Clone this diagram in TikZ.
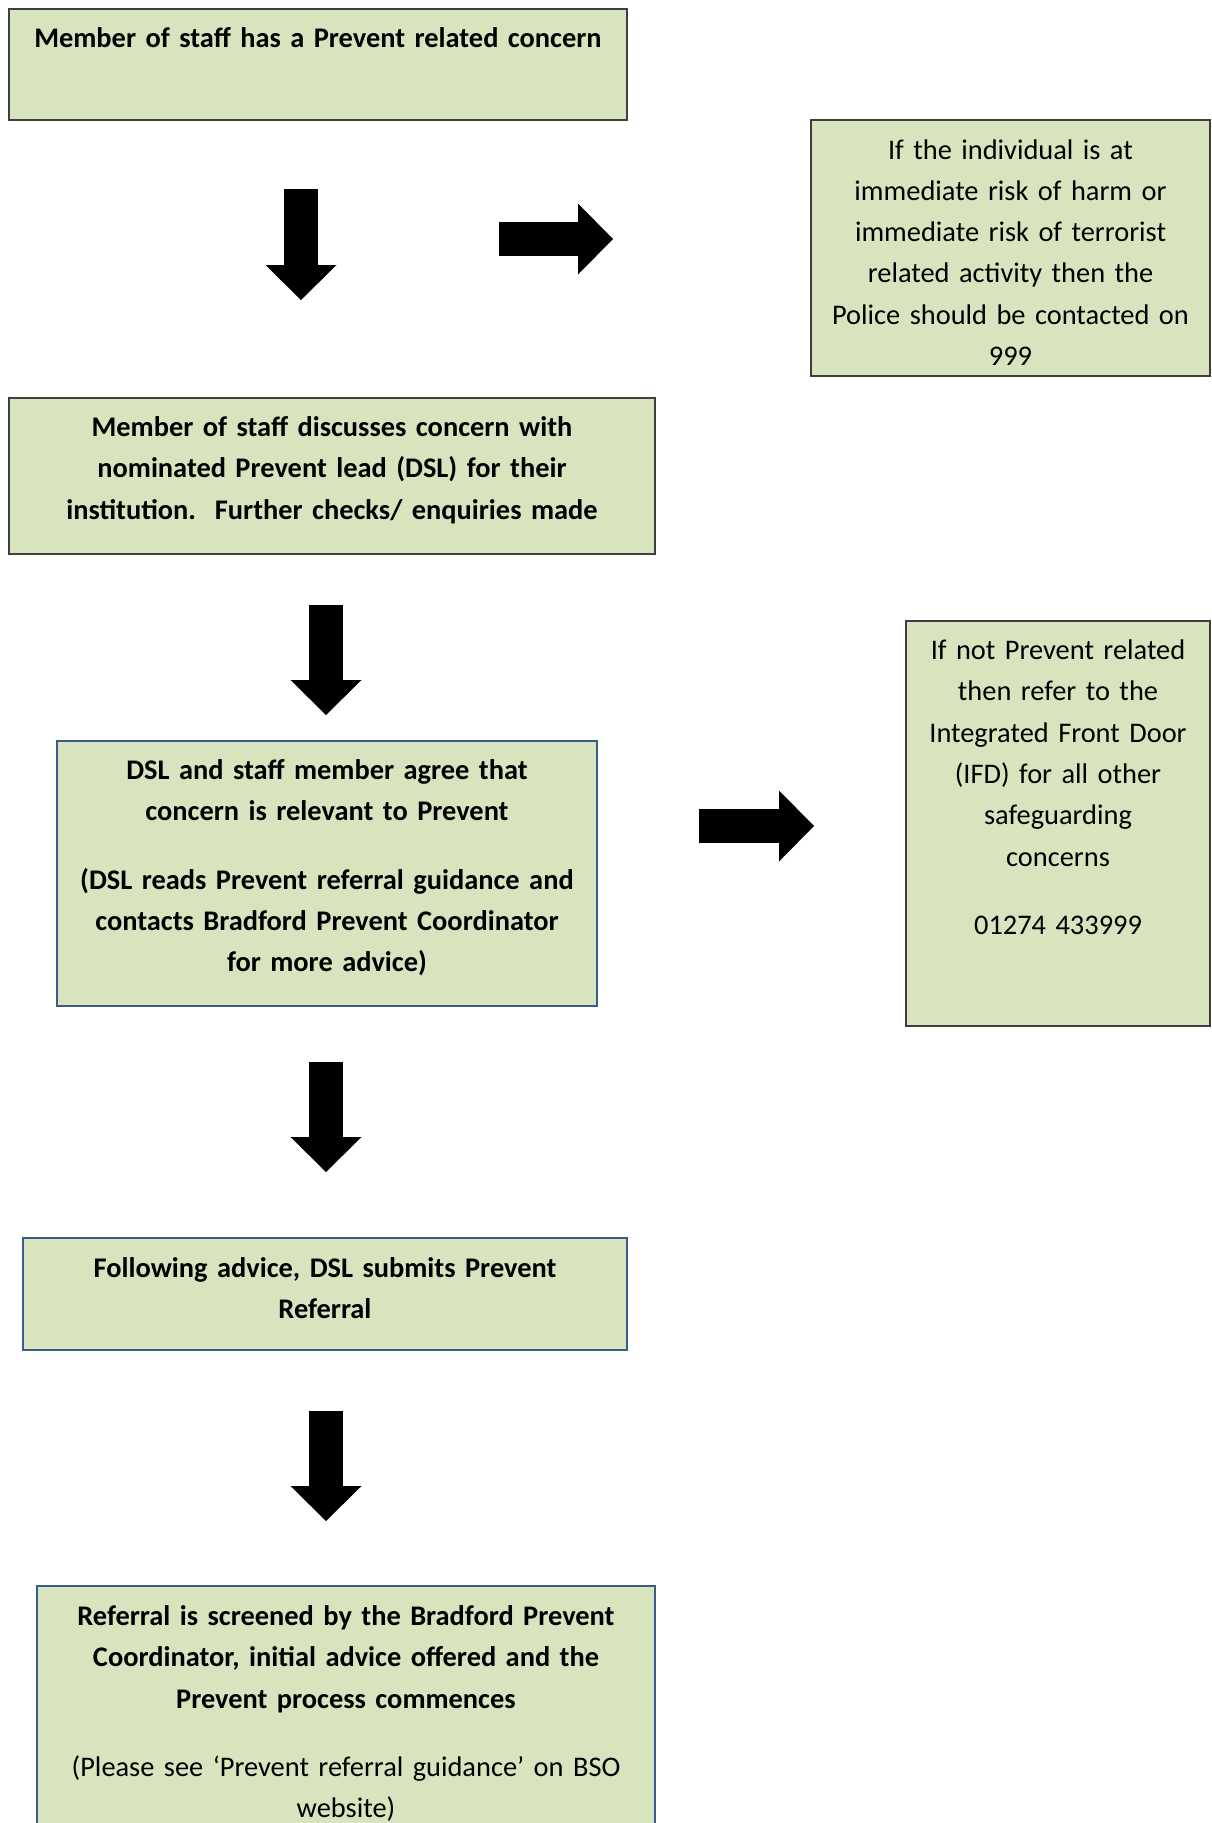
\documentclass[tikz,border=0pt]{standalone}
\usepackage{fontspec}
\setmainfont{Carlito}
\usepackage{xcolor}
\usetikzlibrary{arrows.meta}
\definecolor{boxgreen}{HTML}{D7E4BD}
\definecolor{boxgreyline}{HTML}{3F3F3F}
\definecolor{boxblueline}{HTML}{385D8A}

\begin{document}
\begin{tikzpicture}[
  x=1pt, y=-1pt,
  stepbox/.style={draw=boxgreyline, line width=1.6pt, fill=boxgreen, align=center, anchor=north,
                  inner xsep=4pt, inner ysep=0pt, outer sep=0pt,
                  font=\fontsize{28.4}{41.3}\selectfont\bfseries},
  sidebox/.style={stepbox, font=\fontsize{28.4}{41.3}\selectfont},
  bluebox/.style={stepbox, draw=boxblueline},
  blkarr/.style={line width=34pt, -{Triangle[length=35pt, width=71pt, line width=0pt]}}
]
\useasboundingbox (0,0) rectangle (1212,1823);
% ----- main column -----
\node[stepbox, text width=610pt, text height=38pt, text depth=73pt] (concern) at (318,9)
  {Member of staff has a Prevent related concern};
\node[stepbox, text width=638pt, text height=38.5pt, text depth=117.5pt] (discuss) at (332,398)
  {Member of staff discusses concern with\\nominated Prevent lead (DSL) for their\\institution.\ \ Further checks/ enquiries made};
\node[bluebox, text width=532pt, text height=38.5pt, text depth=226.5pt] (agree) at (327,741)
  {DSL and staff member agree that\\concern is relevant to Prevent\\[27pt](DSL reads Prevent referral guidance and\\contacts Bradford Prevent Coordinator\\for more advice)};
\node[bluebox, text width=596pt, text height=39.5pt, text depth=72.5pt] (submit) at (325,1238)
  {Following advice, DSL submits Prevent\\Referral};
\node[bluebox, text width=610pt, text height=39.5pt, text depth=219.5pt] (screen) at (346,1586)
  {Referral is screened by the Bradford Prevent\\Coordinator, initial advice offered and the\\Prevent process commences\\[27pt]{\mdseries(Please see ‘Prevent referral guidance’ on BSO\\website)}};
% ----- side boxes -----
\node[sidebox, text width=391pt, text height=39pt, text depth=217pt] (police) at (1010.5,120)
  {If the individual is at\\immediate risk of harm or\\immediate risk of terrorist\\related activity then the\\Police should be contacted on\\999};
\node[sidebox, text width=296pt, text height=38.5pt, text depth=366.5pt] (ifd) at (1058,621)
  {If not Prevent related\\then refer to the\\Integrated Front Door\\(IFD) for all other\\safeguarding\\concerns\\[27pt]01274 433999};
% ----- block arrows -----
\coordinate (d1s) at (301,189);  \coordinate (d1e) at (301,300);
\coordinate (r1s) at (499,239);  \coordinate (r1e) at (613,239);
\coordinate (d2s) at (326,605);  \coordinate (d2e) at (326,715);
\coordinate (r2s) at (699,826);  \coordinate (r2e) at (814,826);
\coordinate (d3s) at (326,1062); \coordinate (d3e) at (326,1172);
\coordinate (d4s) at (326,1411); \coordinate (d4e) at (326,1521);
\foreach \a/\b in {d1s/d1e, r1s/r1e, d2s/d2e, r2s/r2e, d3s/d3e, d4s/d4e}{\draw[blkarr] (\a) -- (\b);}
\end{tikzpicture}
\end{document}
